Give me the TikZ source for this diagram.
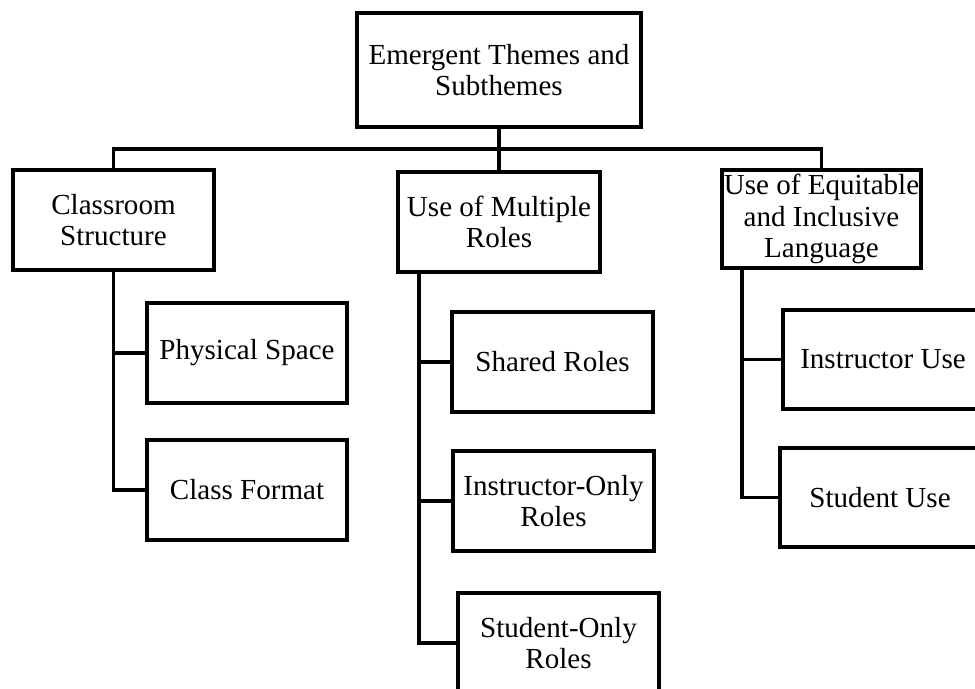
\documentclass[tikz,border=0pt]{standalone}
\usepackage{fontspec}
\setmainfont{Liberation Serif}
\begin{document}
\begin{tikzpicture}[x=0.75pt, y=-0.75pt,
  box/.style={draw=black, line width=2.4pt, fill=white, inner sep=0pt,
    align=center, font=\fontsize{21.8}{23.4}\selectfont},
  link/.style={draw=black, line width=2.4pt}]
\useasboundingbox (0,0) rectangle (975,689);
\clip (0,0) rectangle (975,689);

% theme tree
\node[box, minimum width=213pt, minimum height=85.5pt] (top) at (499,70) {Emergent Themes and\\Subthemes};

\node[box, minimum width=150.75pt, minimum height=75pt] (cs) at (113.5,220) {Classroom\\Structure};
\node[box, minimum width=151.5pt, minimum height=75pt] (mr) at (499,222) {Use of Multiple\\Roles};
\node[box, minimum width=149.25pt, minimum height=73.5pt] (eq) at (821.5,219) {Use of Equitable\\and Inclusive\\Language};

\node[box, minimum width=150pt, minimum height=75pt] (ps) at (247,353) {Physical Space};
\node[box, minimum width=150pt, minimum height=75pt] (cf) at (247,490) {Class Format};

\node[box, minimum width=150.75pt, minimum height=75pt] (sr) at (552.5,362) {Shared Roles};
\node[box, minimum width=150.75pt, minimum height=75pt] (io) at (553.5,501) {Instructor-Only\\Roles};
\node[box, minimum width=150.75pt, minimum height=75pt] (so) at (558.5,643) {Student-Only\\Roles};

\node[box, minimum width=150pt, minimum height=74.25pt] (iu) at (883,359.5) {Instructor Use};
\node[box, minimum width=150pt, minimum height=74.25pt] (su) at (880,497.5) {Student Use};

% bus below the root
\coordinate (busL) at (114,149);
\coordinate (busR) at (821.5,149);
\coordinate (busM) at (499,149);
\draw[link] (top.south) -- (busM);
\draw[link] (cs.north) |- (busR) -- (eq.north);
\draw[link] (busM) -- (mr.north);

% trunks to the subthemes
\draw[link] (cs.south) |- (ps.west);
\draw[link] (cs.south) |- (cf.west);

\coordinate (mrT) at (419,272);
\draw[link] (mrT) |- (sr.west);
\draw[link] (mrT) |- (io.west);
\draw[link] (mrT) |- (so.west);

\coordinate (eqT) at (742,268);
\draw[link] (eqT) |- (iu.west);
\draw[link] (eqT) |- (su.west);
\end{tikzpicture}
\end{document}
